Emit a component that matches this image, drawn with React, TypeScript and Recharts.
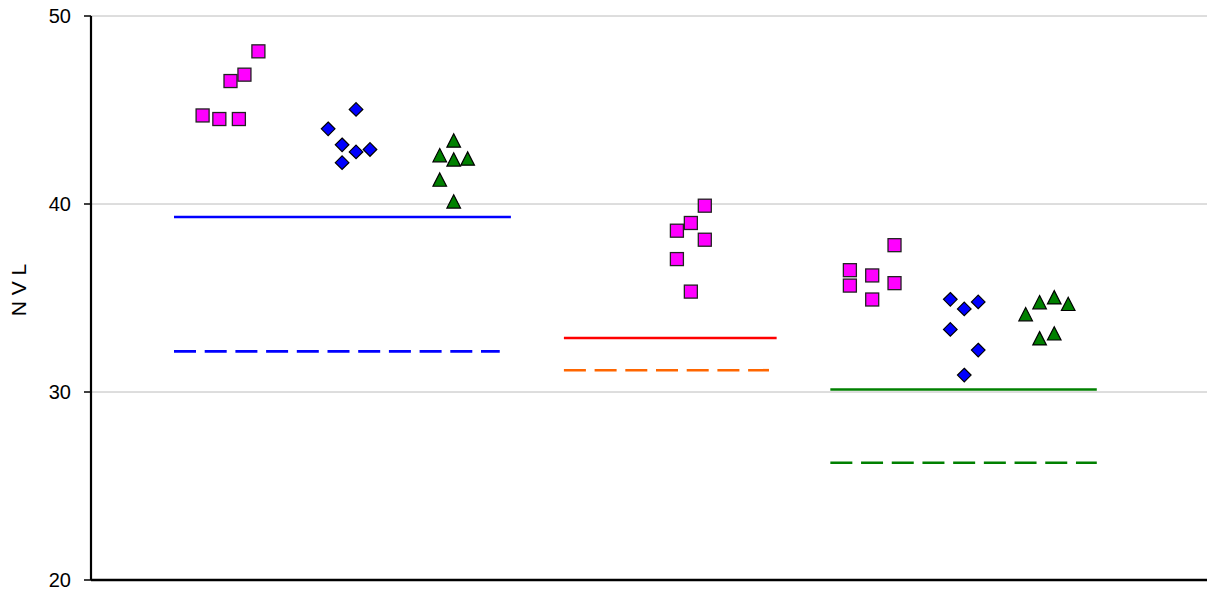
import {
  CartesianGrid,
  ComposedChart,
  ReferenceLine,
  Scatter,
  XAxis,
  YAxis,
} from "recharts";

const pinkA = [
  { x: 8.0, y: 44.71 },
  { x: 9.2, y: 44.52 },
  { x: 10.6, y: 44.52 },
  { x: 10.0, y: 46.54 },
  { x: 11.0, y: 46.88 },
  { x: 12.0, y: 48.12 },
];
const blueA = [
  { x: 17.0, y: 44.0 },
  { x: 18.0, y: 43.15 },
  { x: 18.0, y: 42.2 },
  { x: 19.0, y: 45.03 },
  { x: 19.0, y: 42.77 },
  { x: 20.0, y: 42.9 },
];
const greenA = [
  { x: 25.0, y: 42.58 },
  { x: 25.0, y: 41.28 },
  { x: 26.0, y: 43.36 },
  { x: 26.0, y: 42.35 },
  { x: 26.0, y: 40.12 },
  { x: 27.0, y: 42.4 },
];
const pinkB = [
  { x: 42.0, y: 38.58 },
  { x: 42.0, y: 37.07 },
  { x: 43.0, y: 38.99 },
  { x: 43.0, y: 35.34 },
  { x: 44.0, y: 39.91 },
  { x: 44.0, y: 38.1 },
];
const pinkC = [
  { x: 54.4, y: 36.48 },
  { x: 54.4, y: 35.66 },
  { x: 56.0, y: 36.2 },
  { x: 56.0, y: 34.92 },
  { x: 57.6, y: 37.81 },
  { x: 57.6, y: 35.79 },
];
const blueC = [
  { x: 61.6, y: 34.93 },
  { x: 61.6, y: 33.33 },
  { x: 62.6, y: 34.42 },
  { x: 62.6, y: 30.9 },
  { x: 63.6, y: 34.79 },
  { x: 63.6, y: 32.23 },
];
const greenC = [
  { x: 67.0, y: 34.12 },
  { x: 68.0, y: 34.76 },
  { x: 68.0, y: 32.84 },
  { x: 69.05, y: 35.02 },
  { x: 69.05, y: 33.1 },
  { x: 70.05, y: 34.67 },
];

// [x start, x end, level]
const blueMean = [5.95, 30.1, 39.31];
const blueLow = [5.95, 29.3, 32.16];
const redMean = [33.9, 49.15, 32.87];
const orangeLow = [33.9, 48.6, 31.16];
const greenMean = [53.0, 72.1, 30.13];
const greenLow = [53.0, 72.1, 26.24];

const yTicks = [20, 30, 40, 50];

const font = '"Liberation Sans", Arial, sans-serif';

const Square = (p: any) => (
  <rect
    x={p.cx - 6.5}
    y={p.cy - 6.5}
    width={13}
    height={13}
    fill="#ff00ff"
    stroke="#222"
    strokeWidth={1.3}
  />
);

const Diamond = (p: any) => (
  <polygon
    points={`${p.cx},${p.cy - 6.8} ${p.cx + 6.8},${p.cy} ${p.cx},${p.cy + 6.8} ${p.cx - 6.8},${p.cy}`}
    fill="#0000ff"
    stroke="#000"
    strokeWidth={1.2}
  />
);

const Triangle = (p: any) => (
  <polygon
    points={`${p.cx},${p.cy - 7} ${p.cx + 6.8},${p.cy + 6.3} ${p.cx - 6.8},${p.cy + 6.3}`}
    fill="#008000"
    stroke="#000"
    strokeWidth={1.2}
  />
);

function Seg({ v, color, dashed }: { v: number[]; color: string; dashed?: boolean }) {
  return (
    <ReferenceLine
      segment={[
        { x: v[0], y: v[2] },
        { x: v[1], y: v[2] },
      ]}
      stroke={color}
      strokeWidth={2.6}
      strokeDasharray={dashed ? "22 8.7" : undefined}
    />
  );
}

export default function App() {
  return (
    <div style={{ position: "absolute", left: 0, top: 0, fontFamily: font }}>
      <ComposedChart
        width={1207}
        height={592}
        margin={{ top: 16, right: 0, bottom: 12, left: 0 }}
      >
        <CartesianGrid stroke="#bcbcbc" vertical={false} />
        <XAxis
          type="number"
          dataKey="x"
          domain={[0, 80]}
          height={0}
          tick={false}
          tickLine={false}
          axisLine={false}
        />
        <YAxis
          type="number"
          dataKey="y"
          domain={[20, 50]}
          ticks={yTicks}
          width={91}
          tickSize={7}
          tickMargin={13}
          tickLine={{ stroke: "#000", strokeWidth: 1.5 }}
          axisLine={{ stroke: "#000", strokeWidth: 2.2 }}
          tick={{ fill: "#000", fontSize: 20, fontFamily: font }}
          label={(props: any) => {
            const vb = props.viewBox;
            const cx = 18;
            const cy = vb.y + vb.height / 2 - 8;
            return (
              <text
                x={cx}
                y={cy}
                transform={`rotate(-90, ${cx}, ${cy})`}
                textAnchor="middle"
                dominantBaseline="central"
                fontSize={21}
                fontFamily={font}
                fill="#000"
              >
                N V L
              </text>
            );
          }}
        />
        <ReferenceLine y={20} stroke="#000" strokeWidth={2.5} />
        <Seg v={blueMean} color="#0000ff" />
        <Seg v={blueLow} color="#0000ff" dashed />
        <Seg v={redMean} color="#ff0000" />
        <Seg v={orangeLow} color="#ff6600" dashed />
        <Seg v={greenMean} color="#008000" />
        <Seg v={greenLow} color="#008000" dashed />
        <Scatter data={pinkA} shape={Square} isAnimationActive={false} />
        <Scatter data={blueA} shape={Diamond} isAnimationActive={false} />
        <Scatter data={greenA} shape={Triangle} isAnimationActive={false} />
        <Scatter data={pinkB} shape={Square} isAnimationActive={false} />
        <Scatter data={pinkC} shape={Square} isAnimationActive={false} />
        <Scatter data={blueC} shape={Diamond} isAnimationActive={false} />
        <Scatter data={greenC} shape={Triangle} isAnimationActive={false} />
      </ComposedChart>
    </div>
  );
}
